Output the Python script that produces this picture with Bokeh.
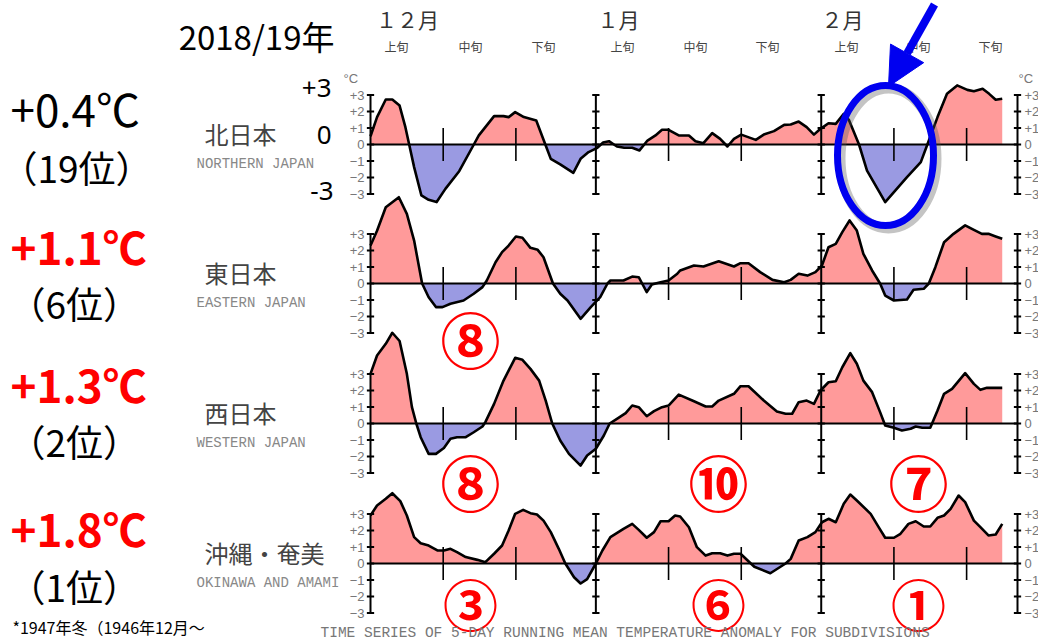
import numpy as np
from bokeh.plotting import figure
from bokeh.models import Range1d, Label, Arrow, NormalHead
from bokeh.embed import file_html
from bokeh.resources import INLINE

# ---------------- data ----------------
north_days = [0.0, 0.9, 2.1, 3.0, 4.0, 4.8, 6.0, 7.0, 8.0, 9.1,
              10.3, 12.2, 14.9, 17.0, 18.3, 19.0, 19.9, 21.1, 22.8, 24.8,
              26.1, 27.9, 28.9, 30.0, 31.2, 32.0, 32.8, 33.9, 34.9, 36.0,
              37.0, 38.1, 39.2, 40.1, 41.0, 42.4, 43.8, 44.7, 45.8, 47.0,
              48.1, 49.1, 50.0, 51.0, 53.0, 54.1, 55.5, 56.9, 57.8, 58.9,
              60.0, 61.0, 61.9, 63.0, 64.0, 65.1, 65.8, 67.2, 68.3, 70.8,
              73.8, 75.7, 78.0, 79.3, 80.7, 82.1, 83.0, 84.2, 85.1, 86.0,
              86.9]
north_vals = [0.5, 1.66, 2.73, 2.73, 2.36, 1.05, -1.37, -3.09, -3.35, -3.49,
              -2.69, -1.62, 0.55, 1.72, 1.72, 1.66, 1.96, 1.66, 1.45, -0.87,
              -1.21, -1.72, -0.87, -0.46, -0.2, 0.12, 0.2, -0.12, -0.2, -0.2,
              -0.36, 0.24, 0.55, 0.89, 0.89, 0.55, 0.55, 0.2, 0.08, 0.69,
              0.34, -0.12, 0.34, 0.6, 0.28, 0.6, 0.81, 1.19, 1.21, 1.39,
              1.05, 0.6, 0.95, 1.29, 1.25, 1.86, 1.5, 0.0, -1.58, -3.49,
              -1.98, -1.07, 1.66, 3.07, 3.58, 3.31, 3.23, 3.38, 3.07, 2.71,
              2.77]

east_days = [0.0, 0.9, 2.1, 3.0, 3.9, 5.0, 6.0, 7.1, 8.0, 9.0,
             9.9, 11.0, 12.8, 14.2, 15.4, 16.0, 17.2, 18.1, 19.0, 20.0,
             20.9, 22.0, 23.0, 23.8, 25.1, 26.1, 27.1, 28.9, 30.3, 31.6,
             32.6, 33.0, 34.8, 36.0, 36.9, 38.0, 38.7, 39.9, 41.0, 42.2,
             42.6, 44.5, 45.8, 47.9, 50.0, 50.9, 52.0, 53.6, 55.3, 56.9,
             57.8, 58.9, 60.1, 61.2, 62.1, 63.0, 64.0, 64.9, 65.9, 66.9,
             67.8, 69.0, 70.1, 70.8, 72.0, 73.8, 74.7, 76.1, 76.8, 77.7,
             78.9, 80.2, 81.8, 83.0, 84.1, 85.0, 86.0, 86.9]
east_vals = [2.3, 3.2, 4.62, 4.93, 5.23, 4.22, 2.6, 0.0, -0.83, -1.43,
             -1.43, -1.23, -1.03, -0.62, -0.22, 0.18, 1.29, 1.9, 2.3, 2.85,
             2.77, 2.16, 2.04, 1.59, 0.0, -0.62, -1.03, -2.14, -1.43, -0.83,
             0.0, 0.18, 0.18, 0.42, 0.38, -0.52, -0.06, 0.08, 0.18, 0.59,
             0.79, 1.09, 1.03, 1.35, 1.03, 1.23, 1.23, 0.69, 0.22, 0.08,
             0.22, 0.59, 0.48, 0.69, 1.09, 2.2, 2.4, 3.11, 3.82, 3.21,
             1.8, 0.79, 0.0, -0.73, -1.03, -0.97, -0.38, -0.32, 0.0, 0.99,
             2.5, 3.01, 3.52, 3.25, 3.01, 3.01, 2.85, 2.71]

west_days = [0.0, 0.9, 2.1, 3.0, 4.0, 5.0, 5.7, 6.3, 6.9, 8.0,
             9.0, 10.1, 11.0, 11.9, 13.1, 14.2, 15.4, 15.8, 17.0, 18.3,
             19.9, 20.9, 22.0, 23.2, 24.1, 25.0, 26.1, 27.3, 28.9, 29.8,
             31.0, 32.1, 32.9, 33.9, 35.1, 36.0, 36.9, 38.0, 39.0, 40.1,
             41.0, 42.4, 44.5, 46.1, 47.0, 47.9, 50.0, 50.9, 52.0, 54.1,
             55.9, 57.1, 58.0, 58.9, 60.0, 61.0, 61.9, 63.0, 64.0, 64.9,
             66.0, 66.9, 67.8, 69.0, 70.1, 70.8, 72.0, 73.1, 74.3, 75.0,
             75.9, 77.0, 78.0, 78.9, 80.0, 81.8, 83.0, 83.9, 84.8, 86.9]
west_vals = [3.01, 4.12, 4.83, 5.5, 5.0, 3.01, 0.99, 0.0, -0.83, -1.84,
             -1.84, -1.48, -0.93, -0.83, -0.83, -0.53, -0.18, 0.08, 1.19, 2.6,
             3.98, 3.86, 3.31, 2.6, 1.39, 0.0, -1.03, -1.84, -2.55, -1.94,
             -1.53, -0.73, 0.0, 0.28, 0.63, 1.09, 0.99, 0.44, 0.75, 0.99,
             1.09, 1.75, 1.35, 1.03, 1.03, 1.39, 1.8, 2.26, 2.26, 1.39,
             0.73, 0.59, 0.59, 1.29, 1.39, 1.19, 2.0, 2.5, 2.56, 3.41,
             4.26, 3.62, 2.6, 1.9, 0.69, -0.12, -0.26, -0.42, -0.32, -0.18,
             -0.26, -0.26, 0.79, 1.8, 2.1, 3.05, 2.4, 2.04, 2.16, 2.16]

okinawa_days = [0.0, 0.9, 2.1, 3.0, 4.1, 5.0, 6.0, 6.9, 8.0, 9.2,
                10.1, 11.0, 11.9, 13.1, 14.7, 15.8, 17.0, 18.1, 19.0, 19.9,
                21.0, 22.0, 22.9, 23.8, 24.8, 25.9, 26.8, 28.0, 28.9, 29.8,
                31.0, 31.9, 33.0, 34.8, 36.0, 36.9, 38.0, 39.0, 39.9, 41.0,
                41.9, 42.6, 43.8, 44.9, 46.1, 47.0, 48.1, 49.1, 50.0, 50.9,
                52.8, 55.0, 57.1, 57.8, 58.9, 60.1, 61.2, 62.1, 63.0, 64.0,
                65.1, 66.0, 66.9, 68.8, 69.9, 70.8, 72.0, 72.9, 74.0, 75.0,
                76.1, 77.0, 78.0, 78.9, 79.8, 80.9, 81.8, 83.0, 83.9, 85.0,
                86.0, 86.9]
okinawa_vals = [2.91, 3.52, 3.92, 4.26, 3.78, 2.91, 1.6, 1.23, 1.09, 0.79,
                0.79, 0.89, 0.69, 0.39, 0.22, 0.08, 0.59, 1.09, 2.0, 3.01,
                3.25, 3.05, 2.97, 2.6, 1.9, 0.89, 0.0, -0.83, -1.21, -0.95,
                0.0, 0.79, 1.6, 2.1, 2.4, 2.04, 1.56, 1.9, 2.56, 2.56,
                2.91, 2.85, 2.2, 0.99, 0.48, 0.62, 0.62, 0.48, 0.59, 0.59,
                -0.2, -0.59, 0.0, 0.28, 1.39, 1.6, 1.9, 2.5, 2.71, 2.5,
                3.62, 4.18, 3.82, 3.01, 2.2, 1.56, 1.56, 1.8, 2.4, 2.56,
                2.24, 2.24, 2.77, 2.91, 3.31, 4.12, 3.72, 2.6, 2.2, 1.7,
                1.76, 2.4]

region_jp = ["北日本", "東日本", "西日本", "沖縄・奄美"]
region_en = ["NORTHERN JAPAN", "EASTERN JAPAN", "WESTERN JAPAN", "OKINAWA AND AMAMI"]
season_anom = ["+0.4℃", "+1.1℃", "+1.3℃", "+1.8℃"]
season_rank = ["（19位）", "（6位）", "（2位）", "（1位）"]
dekad_ranks = [["⑧"], ["⑧", "⑩", "⑦"], ["③", "⑥", "①"]]
month_labels = ["１２月", "１月", "２月"]
dekad_labels = ["上旬", "中旬", "下旬"]
ytick_vals = [3, 2, 1, 0, -1, -2, -3]
ytick_labels = ["+3", "+2", "+1", "0", "−1", "−2", "−3"]
month_start_days = [0, 31, 62, 89]
dekad_tick_days = [10, 20, 41, 51, 72, 82]

# ---------------- layout helpers (page pixels -> data) ----------------
X0 = 370.0
PXD = (1017.0 - 370.0) / 89.0
Y0 = 144.0
PXU = 16.5


def dx(px):
    return (px - X0) / PXD


def dy(py):
    return (Y0 - py) / PXU


W, H = 1038, 641
p = figure(width=W, height=H, output_backend="svg", toolbar_location=None,
           x_range=Range1d(dx(0), dx(W)), y_range=Range1d(dy(H), dy(0)),
           min_border=0, outline_line_color=None)
p.axis.visible = False
p.xgrid.visible = False
p.ygrid.visible = False
p.background_fill_color = "white"
p.border_fill_color = "white"

POS = "#FF9A9A"
NEG = "#9A9AE2"
panel_zero_px = [144, 283, 423, 563]
offsets = [dy(v) for v in panel_zero_px]
series = [(north_days, north_vals), (east_days, east_vals),
          (west_days, west_vals), (okinawa_days, okinawa_vals)]


def with_crossings(days, vals):
    xs, ys = [], []
    for i in range(len(days)):
        if i > 0 and vals[i - 1] * vals[i] < 0:
            t = vals[i - 1] / (vals[i - 1] - vals[i])
            xs.append(days[i - 1] + t * (days[i] - days[i - 1]))
            ys.append(0.0)
        xs.append(days[i])
        ys.append(vals[i])
    return np.array(xs), np.array(ys)


def lab(text, px, py, size, color="black", align="left", font="Noto Sans CJK JP",
        style="normal", baseline="middle", lh=1.2):
    p.add_layout(Label(x=dx(px), y=dy(py), text=text, text_font_size=f"{size}px",
                       text_color=color, text_align=align, text_font=font,
                       text_font_style=style, text_baseline=baseline,
                       text_line_height=lh))


tick_half = 0.5
for k, off in enumerate(offsets):
    xs, ys = with_crossings(*series[k])
    p.varea(x=xs, y1=np.full(len(xs), off), y2=off + np.maximum(ys, 0), color=POS)
    p.varea(x=xs, y1=np.full(len(xs), off), y2=off + np.minimum(ys, 0), color=NEG)
    p.line(x=[month_start_days[0], month_start_days[-1]], y=[off, off],
           line_color="black", line_width=2)
    p.line(x=xs, y=off + ys, line_color="black", line_width=2.6, line_join="round")
    for d in month_start_days:
        p.segment(x0=[d], y0=[off - 3], x1=[d], y1=[off + 3], line_color="black", line_width=2)
        p.segment(x0=[d - tick_half] * 7, y0=[off + v for v in ytick_vals],
                  x1=[d + tick_half] * 7, y1=[off + v for v in ytick_vals],
                  line_color="black", line_width=2)
    p.segment(x0=dekad_tick_days, y0=[off - 1] * 6, x1=dekad_tick_days, y1=[off + 1] * 6,
              line_color="black", line_width=1.6)
    for v, t in zip(ytick_vals, ytick_labels):
        lab(t, 364, panel_zero_px[k] - v * PXU, 13, "#777", "right", "Liberation Sans")
        lab(t, 1024, panel_zero_px[k] - v * PXU, 13, "#777", "left", "Liberation Sans")
    lab(region_jp[k], 204, panel_zero_px[k] - 11, 24, "#444", "left", "Noto Sans CJK JP")
    lab(region_en[k], 196, panel_zero_px[k] + 19, 14, "#888", "left", "Liberation Mono")
    col = "black" if k == 0 else "#FF0000"
    sty = "normal" if k == 0 else "bold"
    lab(season_anom[k], 10, [107, 245, 383, 527][k], 44, col, "left", "Noto Sans CJK JP", sty)
    lab(season_rank[k], [0, 8, 8, 8][k], [166, 302, 440, 585][k], 37, "black", "left",
        "Noto Sans CJK JP")

lab("°C", 343, 78, 13, "#777", "left", "Liberation Sans")
lab("°C", 1018, 78, 13, "#777", "left", "Liberation Sans")

for m, cx in zip(month_labels, [407, 618, 842]):
    lab(m, cx, 18, 21, "#333", "center", "Noto Sans CJK JP")
dek_x = [396, 470, 543, 622, 695, 767, 846, 918, 990]
for i, cx in enumerate(dek_x):
    lab(dekad_labels[i % 3], cx, 46, 12, "#444", "center", "Noto Sans CJK JP")

lab("2018/19年", 334, 35, 33, "black", "right", "Noto Sans CJK JP")
lab("+3", 331, 87, 26, "black", "right", "Noto Sans")
lab("0", 331, 134, 26, "black", "right", "Noto Sans")
lab("-3", 333, 190, 26, "black", "right", "Noto Sans")

rank_pos = [[(470, 337)], [(470, 480), (718, 480), (918, 480)],
            [(470, 601), (718, 601), (918, 601)]]
rank_size = [60, 60, 55]
for ranks, poss, sz in zip(dekad_ranks, rank_pos, rank_size):
    for r, (cx, cy) in zip(ranks, poss):
        lab(r, cx, cy, sz, "#FF0000", "center", "Noto Sans CJK JP", "bold", lh=1.0)

lab("TIME SERIES OF 5-DAY RUNNING MEAN TEMPERATURE ANOMALY FOR SUBDIVISIONS",
    320, 632, 14.5, "#777", "left", "Liberation Mono")
lab("*1947年冬（1946年12月～", 12, 626, 16, "black", "left", "Noto Sans CJK JP", lh=1.0)

cx, cy = dx(885), dy(155)
p.ellipse(x=[cx + 3 / PXD], y=[cy - 3 / PXU], width=[96 / PXD], height=[140 / PXU],
          fill_color=None, line_color="#555", line_alpha=0.35, line_width=10)
p.ellipse(x=[cx], y=[cy], width=[96 / PXD], height=[140 / PXU],
          fill_color=None, line_color="#0000F0", line_width=7)
p.add_layout(Arrow(end=NormalHead(size=38, fill_color="#0000F0", line_color="#0000F0"),
                   x_start=dx(934), y_start=dy(4), x_end=dx(888), y_end=dy(86),
                   line_color="#0000F0", line_width=8))

open("out.html", "w").write(file_html(p, INLINE))
